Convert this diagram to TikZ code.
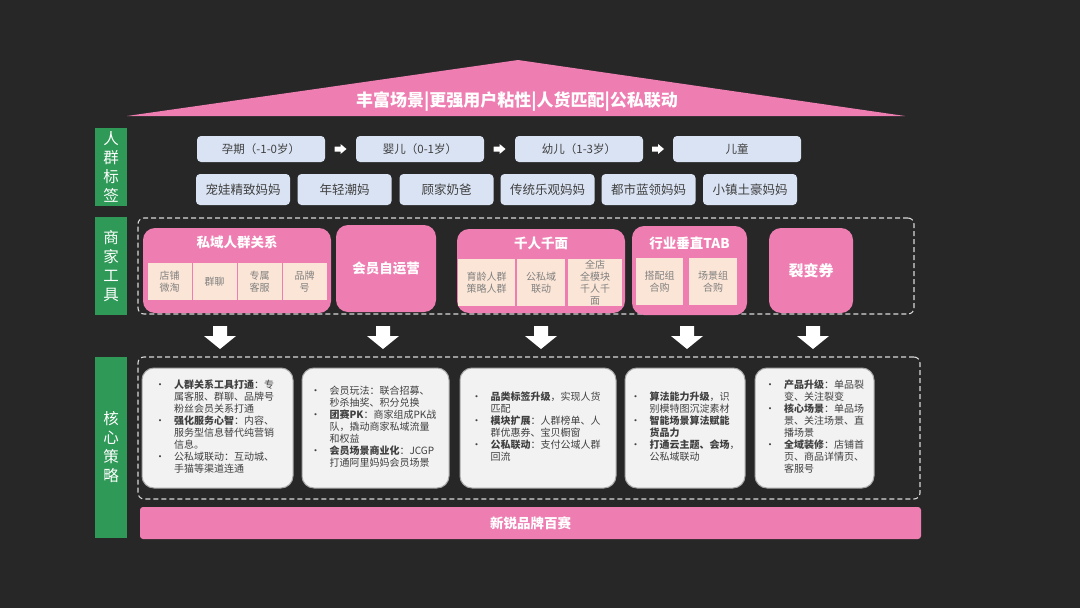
\documentclass[tikz,border=0pt]{standalone}
\usepackage{fontspec}
\setmainfont{Noto Sans CJK SC}
\usepackage{tikz}
\usetikzlibrary{positioning,calc}
\definecolor{bgdark}{HTML}{272727}
\definecolor{rosepink}{HTML}{EE7DB1}
\definecolor{tagblue}{HTML}{DAE3F3}
\definecolor{peach}{HTML}{FBE5D6}
\definecolor{leafgreen}{HTML}{2F9A58}
\definecolor{cardwhite}{HTML}{F2F2F2}
\definecolor{inkgray}{HTML}{404040}
\definecolor{subgray}{HTML}{808080}
\newcommand{\fsz}[1]{\fontsize{#1}{1.2\dimexpr#1pt\relax}\selectfont}

\begin{document}
\begin{tikzpicture}[x=1pt,y=-1pt,
stage/.style={fill=tagblue,rounded corners=4pt,minimum width=128pt,minimum height=26pt,inner sep=0pt,text=inkgray,font=\fsz{11.5}},
persona/.style={stage,minimum width=94pt,minimum height=31pt,font=\fsz{12.5}},
sidetag/.style={fill=leafgreen,minimum width=32pt,inner sep=0pt,align=center,text=white,font=\fontsize{15.5}{19}\selectfont},
toolbox/.style={fill=rosepink,rounded corners=12pt,inner sep=0pt},
toolname/.style={text=white,font=\bfseries\fsz{13.5}},
subbox/.style={fill=peach,inner sep=0pt,align=center,text=subgray,font=\fontsize{10}{12}\selectfont},
dashframe/.style={draw=white!85!black,dash pattern=on 5pt off 3pt,line width=1.1pt,rounded corners=6pt,inner sep=0pt},
rightblock/.pic={\fill[white] (-6,-2.5) -- (0,-2.5) -- (0,-5) -- (6,0) -- (0,5) -- (0,2.5) -- (-6,2.5) -- cycle;},
downblock/.pic={\fill[white] (-7,-11) -- (7,-11) -- (7,-1) -- (16,-1) -- (0,12) -- (-16,-1) -- (-7,-1) -- cycle;},
card/.style={fill=cardwhite,draw=black!35,line width=1pt,rounded corners=12pt,minimum height=120pt,inner sep=0pt},
cardtext/.style={text=inkgray,font=\fontsize{10}{11.8}\selectfont,align=left,inner sep=0pt}]

% background
\fill[bgdark] (0,0) rectangle (1080,608);
\useasboundingbox (0,0) rectangle (1080,608);

% roof
\coordinate (roofleft) at (127,116);
\coordinate (roofapex) at (518,60);
\coordinate (roofright) at (905,116);
\fill[rosepink] (roofleft) -- (roofapex) -- (roofright) -- cycle;
\node[text=white,font=\bfseries\fsz{17}] (motto) at (517,102) {丰富场景|更强用户粘性|人货匹配|公私联动};

% side tags
\node[sidetag,minimum height=78pt] (tagcrowd) at (111,167) {人\\群\\标\\签};
\node[sidetag,minimum height=98pt] (tagtools) at (111,266) {商\\家\\工\\具};
\node[sidetag,minimum height=181pt] (tagcore) at (111,447.5) {核\\心\\策\\略};

% life stages
\node[stage] (preg) at (261,149) {孕期（-1-0岁）};
\node[stage] (baby) at (420,149) {婴儿（0-1岁）};
\node[stage] (todd) at (579,149) {幼儿（1-3岁）};
\node[stage] (kid) at (737,149) {儿童};
\pic (arr1) at ($(preg)!0.5!(baby)$) {rightblock};
\pic (arr2) at ($(baby)!0.5!(todd)$) {rightblock};
\pic (arr3) at ($(todd)!0.5!(kid)$) {rightblock};

% personas
\node[persona] (mum1) at (243,189.5) {宠娃精致妈妈};
\node[persona] (mum2) at (344.5,189.5) {年轻潮妈};
\node[persona] (dad) at (446.5,189.5) {顾家奶爸};
\node[persona] (mum3) at (547.5,189.5) {传统乐观妈妈};
\node[persona] (mum4) at (648.5,189.5) {都市蓝领妈妈};
\node[persona] (mum5) at (750,189.5) {小镇土豪妈妈};

% merchant tools
\node[dashframe,minimum width=776pt,minimum height=96pt] (toolframe) at (526,266) {};
\node[toolbox,minimum width=188pt,minimum height=85pt] (private) at (237,270.5) {};
\node[toolname] at (237,242) {私域人群关系};
\node[subbox,minimum width=44pt,minimum height=37pt] (shop) at (169.5,281.5) {店铺\\微淘};
\node[subbox,minimum width=44pt,minimum height=37pt] (chat) at (214.5,281.5) {群聊};
\node[subbox,minimum width=44pt,minimum height=37pt] (serv) at (259.5,281.5) {专属\\客服};
\node[subbox,minimum width=44pt,minimum height=37pt] (brand) at (304.5,281.5) {品牌\\号};

\node[toolbox,minimum width=100pt,minimum height=87pt,toolname] (member) at (386,268.5) {会员自运营};

\node[toolbox,minimum width=168pt,minimum height=84pt] (faces) at (541,271) {};
\node[toolname] at (541,243) {千人千面};
\node[subbox,minimum width=57pt,minimum height=47pt] (age) at (486.5,282.5) {育龄人群\\策略人群};
\node[subbox,minimum width=48pt,minimum height=47pt] (link) at (541,282.5) {公私域\\联动};
\node[subbox,minimum width=54pt,minimum height=47pt] (whole) at (595,282.5) {全店\\全模块\\千人千\\面};

\node[toolbox,minimum width=115pt,minimum height=89pt] (vertical) at (689.5,270.5) {};
\node[toolname] at (689.5,243) {行业垂直TAB};
\node[subbox,minimum width=47pt,minimum height=47pt] (combo) at (659.5,281.5) {搭配组\\合购};
\node[subbox,minimum width=48pt,minimum height=47pt] (scene) at (713,281.5) {场景组\\合购};

\node[toolbox,minimum width=84pt,minimum height=85pt,text=white,font=\bfseries\fsz{15}] (coupon) at (811,270.5) {裂变券};

% arrows down
\pic (down1) at (220,337) {downblock};
\pic (down2) at (383,337) {downblock};
\pic (down3) at (541,337) {downblock};
\pic (down4) at (687,337) {downblock};
\pic (down5) at (813,337) {downblock};

% core strategy
\node[dashframe,minimum width=782pt,minimum height=142pt] (coreframe) at (529,428) {};

\node[card,minimum width=151pt] (card1) at (217.5,428) {};
\node[cardtext] at ([xshift=-3pt]card1.center) {\begin{tabular}{@{}l@{\hspace{9pt}}l@{}}
•&\textbf{人群关系工具打通}：专\\
 &属客服、群聊、品牌号\\
 &粉丝会员关系打通\\
•&\textbf{强化服务心智}：内容、\\
 &服务型信息替代纯营销\\
 &信息。\\
•&公私域联动：互动城、\\
 &手猫等渠道连通
\end{tabular}};

\node[card,minimum width=147pt] (card2) at (375.5,428) {};
\node[cardtext] at ([xshift=-2pt]card2.center) {\begin{tabular}{@{}l@{\hspace{9pt}}l@{}}
•&会员玩法：联合招募、\\
 &秒杀抽奖、积分兑换\\
•&\textbf{团赛PK}：商家组成PK战\\
 &队，撬动商家私域流量\\
 &和权益\\
•&\textbf{会员场景商业化}：JCGP\\
 &打通阿里妈妈会员场景
\end{tabular}};

\node[card,minimum width=156pt] (card3) at (538,428) {};
\node[cardtext] at ([xshift=-2pt]card3.center) {\begin{tabular}{@{}l@{\hspace{9pt}}l@{}}
•&\textbf{品类标签升级}，实现人货\\
 &匹配\\
•&\textbf{模块扩展}：人群榜单、人\\
 &群优惠券、宝贝橱窗\\
•&\textbf{公私联动}：支付公域人群\\
 &回流
\end{tabular}};

\node[card,minimum width=120pt] (card4) at (685,428) {};
\node[cardtext] at (card4) {\begin{tabular}{@{}l@{\hspace{9pt}}l@{}}
•&\textbf{算法能力升级}，识\\
 &别模特图沉淀素材\\
•&\textbf{智能场景算法赋能}\\
 &\textbf{货品力}\\
•&\textbf{打通云主题、会场}，\\
 &公私域联动
\end{tabular}};

\node[card,minimum width=119pt] (card5) at (814.5,428) {};
\node[cardtext] at (card5) {\begin{tabular}{@{}l@{\hspace{9pt}}l@{}}
•&\textbf{产品升级}：单品裂\\
 &变、关注裂变\\
•&\textbf{核心场景}：单品场\\
 &景、关注场景、直\\
 &播场景\\
•&\textbf{全域装修}：店铺首\\
 &页、商品详情页、\\
 &客服号
\end{tabular}};

% bottom bar
\node[fill=rosepink,rounded corners=3pt,minimum width=781pt,minimum height=32pt,text=white,font=\bfseries\fsz{13.5}] (contest) at (530.5,523) {新锐品牌百赛};

\end{tikzpicture}
\end{document}
